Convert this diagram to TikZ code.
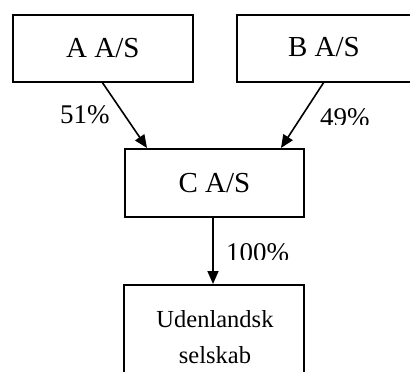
\documentclass[tikz,border=0pt]{standalone}
\usepackage{fontspec}
\setmainfont{Liberation Serif}
\usetikzlibrary{arrows.meta}
\begin{document}
\begin{tikzpicture}[x=1pt,y=-1pt,
  box/.style={draw,line width=1.8pt,inner sep=0pt,anchor=north west},
  conn/.style={line width=1.6pt,-{Triangle[length=13pt,width=11pt]}},
  title/.style={font=\fontsize{29}{29}\selectfont},
  sub/.style={font=\fontsize{24.5}{24.5}\selectfont,inner sep=0pt,anchor=base},
  pct/.style={font=\fontsize{27}{27}\selectfont,inner sep=0pt,anchor=base west}]
\clip (0,0) rectangle (410,372);
\node[box,minimum width=180pt,minimum height=67pt] (a) at (12,14) {};
\node[title] (ta) at (a.center) {A A/S};
\node[box,minimum width=190pt,minimum height=67pt] (b) at (236,14) {};
\node[title] (tb) at (324,47.5) {B A/S};
\node[box,minimum width=179pt,minimum height=68pt] (c) at (124,148) {};
\node[title] (tc) at (c.center) {C A/S};
\node[box,minimum width=180pt,minimum height=100pt] (d) at (123,284) {};
\node[sub] (td1) at (215,327) {Udenlandsk};
\node[sub] (td2) at (215,363) {selskab};
\coordinate (a1) at (102,82);
\coordinate (c1) at (147,148);
\coordinate (b1) at (324,82);
\coordinate (c2) at (281,148);
\coordinate (c3) at (213,217);
\coordinate (d1) at (213,284);
\draw[conn] (a1) -- (c1);
\draw[conn] (b1) -- (c2);
\draw[conn] (c3) -- (d1);
\begin{scope}
\clip (55,95) rectangle (118,123);
\node[pct] (p1) at (60,123) {51\%};
\end{scope}
\begin{scope}
\clip (315,95) rectangle (380,124);
\node[pct] (p2) at (320,126) {49\%};
\end{scope}
\begin{scope}
\clip (220,235) rectangle (300,259);
\node[pct] (p3) at (226,261) {100\%};
\end{scope}
\end{tikzpicture}
\end{document}
